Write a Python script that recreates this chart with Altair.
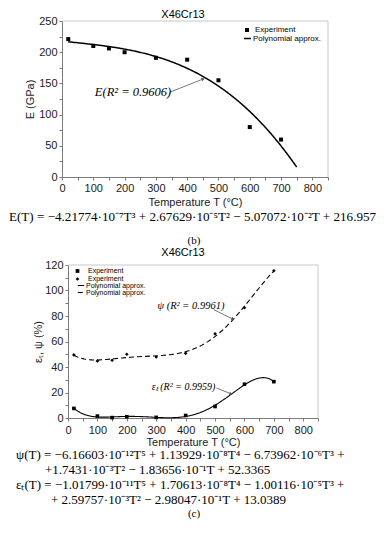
import altair as alt
import pandas as pd

# ---------------- data ----------------
# panel (b): Young's modulus E (GPa) vs temperature T (°C)
T_E = [20, 100, 150, 200, 300, 400, 500, 600, 700]
E_exp = [221, 210, 206, 200, 191, 188, 155, 80, 60]

# panel (c): elongation eps_t (%) and reduction of area psi (%)
T_c = [20, 100, 150, 200, 300, 400, 500, 600, 700]
eps_exp = [7.5, 1.5, 0.3, 1.0, 0.5, 2.0, 9.0, 26.5, 28.5]
psi_exp = [49.5, 44.8, 45.3, 50.0, 47.8, 50.7, 66.0, 86.5, 115.5]

x_ticks = list(range(0, 851, 50))
E_ticks = list(range(0, 251, 25))
c_ticks = list(range(0, 121, 10))

title_text = "X46Cr13"
eq_b = "E(T) = −4.21774·10⁻⁷T³ + 2.67629·10⁻⁵T² − 5.07072·10⁻²T + 216.957"
eq_c = [
    "ψ(T) = −6.16603·10⁻¹²T⁵ + 1.13929·10⁻⁸T⁴ − 6.73962·10⁻⁶T³ +",
    "+1.7431·10⁻³T² − 1.83656·10⁻¹T + 52.3365",
    "εₜ(T) = −1.01799·10⁻¹¹T⁵ + 1.70613·10⁻⁸T⁴ − 1.00116·10⁻⁵T³ +",
    "+ 2.59757·10⁻³T² − 2.98047·10⁻¹T + 13.0389",
]

SANS = "Liberation Sans"
SERIF = "Liberation Serif"
FRAME = "#c8c8c8"

one = pd.DataFrame({"a": [0]})


def txt(s, x, y, size, align="left", style="normal", font=SERIF):
    return alt.Chart(pd.DataFrame({"t": [s]})).mark_text(
        align=align, baseline="middle", font=font, fontSize=size,
        fontStyle=style, color="black"
    ).encode(text="t:N", x=alt.value(x), y=alt.value(y))


def ax(vals, step, **kw):
    return alt.Axis(values=vals, labelExpr=f"datum.value % {step} == 0 ? datum.label : ''",
                    labelOverlap=False, labelFlush=False, **kw)


# ---------------- panel (b) ----------------
top_df = pd.DataFrame({"T": T_E, "E": E_exp, "ser": "Experiment"})
xs_t = alt.Scale(domain=[0, 850], nice=False, zero=False)
ys_t = alt.Scale(domain=[0, 250], nice=False)
ax_xt = ax(x_ticks, 100, labelPadding=2, titlePadding=3)
ax_yt = ax(E_ticks, 50, labelPadding=2, titlePadding=3)
XT = alt.X("T:Q", scale=xs_t, axis=ax_xt, title="Temperature T (°C)")
YT = alt.Y("E:Q", scale=ys_t, axis=ax_yt, title="E (GPa)")


def xt(v):
    return alt.XDatum(v, scale=xs_t, axis=ax_xt, title="Temperature T (°C)")


def yt(v):
    return alt.YDatum(v, scale=ys_t, axis=ax_yt, title="E (GPa)")


pts_t = alt.Chart(top_df).mark_point(filled=True, color="black", size=16, opacity=1).encode(
    x=XT, y=YT,
    shape=alt.Shape("ser:N", scale=alt.Scale(domain=["Experiment"], range=["square"]),
                    legend=alt.Legend(orient="none", legendX=181, legendY=5, title=None,
                                      labelFont=SANS, labelFontSize=8, labelOffset=4,
                                      symbolSize=16, symbolFillColor="black",
                                      symbolStrokeColor="black", symbolStrokeWidth=0,
                                      padding=0)),
)
fit_t = alt.Chart(top_df).transform_regression(
    "T", "E", method="poly", order=3, extent=[20, 750]
).transform_calculate(fit="'Polynomial approx.'").mark_line(color="black", strokeWidth=1.5).encode(
    x=XT, y=YT,
    strokeDash=alt.StrokeDash("fit:N", scale=alt.Scale(domain=["Polynomial approx."], range=[[1, 0]]),
                              legend=alt.Legend(orient="none", legendX=181, legendY=13, title=None,
                                                labelFont=SANS, labelFontSize=8, labelOffset=1,
                                                symbolType="stroke", symbolSize=49,
                                                symbolStrokeColor="black", symbolStrokeWidth=1.5,
                                                padding=0)),
)
frame_t1 = alt.Chart(one).mark_rule(color=FRAME, strokeWidth=1).encode(
    x=xt(0), x2=alt.datum(850), y=yt(250))
frame_t2 = alt.Chart(one).mark_rule(color=FRAME, strokeWidth=1).encode(
    x=xt(850), y=yt(0), y2=alt.datum(250))
ann_t = alt.Chart(pd.DataFrame({"t": ["E(R² = 0.9606)"]})).mark_text(
    font=SERIF, fontSize=12.5, fontStyle="italic", color="black", baseline="middle"
).encode(text="t:N", x=xt(227), y=yt(136))
arr_t = alt.Chart(one).mark_rule(color="#555555", strokeWidth=0.8).encode(
    x=xt(345), y=yt(136), x2=alt.datum(451), y2=alt.datum(157))
head_t = alt.Chart(one).mark_point(shape="triangle-right", filled=True, color="#555555",
                                   size=14, opacity=1, angle=339).encode(
    x=xt(451), y=yt(157))

top = alt.layer(
    frame_t1, frame_t2, fit_t, pts_t, arr_t, head_t, ann_t,
    txt(title_text, 121, -6, 11, align="center", font=SANS),
    txt(eq_b, -53, 196, 13.1),
    txt("(b)", 132, 220, 11, align="center"),
).properties(width=266, height=156)

# ---------------- panel (c) ----------------
c_df = pd.DataFrame({
    "T": T_c + T_c,
    "v": eps_exp + psi_exp,
    "ser": ["eps"] * len(T_c) + ["psi"] * len(T_c),
})
xs_c = alt.Scale(domain=[0, 850], range=[6, 256], nice=False, zero=False)
ys_c = alt.Scale(domain=[0, 120], nice=False)
ax_xc = ax(x_ticks, 100, labelPadding=3, titlePadding=1)
ax_yc = ax(c_ticks, 20, labelPadding=2, titlePadding=1, offset=-6)
XC = alt.X("T:Q", scale=xs_c, axis=ax_xc, title="Temperature T (°C)")
YC = alt.Y("v:Q", scale=ys_c, axis=ax_yc, title="εₜ, ψ (%)")


def xc(v):
    return alt.XDatum(v, scale=xs_c, axis=ax_xc, title="Temperature T (°C)")


def yc(v):
    return alt.YDatum(v, scale=ys_c, axis=ax_yc, title="εₜ, ψ (%)")


pts_c = alt.Chart(c_df).mark_point(filled=True, color="black", size=13, opacity=1).encode(
    x=XC, y=YC,
    shape=alt.Shape("ser:N", scale=alt.Scale(domain=["eps", "psi"], range=["square", "diamond"]),
                    legend=alt.Legend(orient="none", legendX=12, legendY=2.5, title=None,
                                      labelExpr="'Experiment'",
                                      labelFont=SANS, labelFontSize=7, labelOffset=7,
                                      symbolSize=14, symbolFillColor="black",
                                      symbolStrokeColor="black", symbolStrokeWidth=0,
                                      rowPadding=0, padding=0)),
)
fit_c = alt.Chart(c_df).transform_regression(
    "T", "v", method="poly", order=5, groupby=["ser"]
).transform_calculate(fit="datum.ser + '_fit'").mark_line(color="black", strokeWidth=1.1).encode(
    x=XC, y=YC,
    strokeDash=alt.StrokeDash("fit:N", scale=alt.Scale(domain=["eps_fit", "psi_fit"],
                                                        range=[[1, 0], [5, 3]]),
                              legend=alt.Legend(orient="none", legendX=15, legendY=16.5, title=None,
                                                labelExpr="'Polynomial approx.'",
                                                labelFont=SANS, labelFontSize=7, labelOffset=1,
                                                symbolType="stroke", symbolSize=42,
                                                symbolStrokeColor="black", symbolStrokeWidth=1.1,
                                                rowPadding=0, padding=0)),
)
frame_c1 = alt.Chart(one).mark_rule(color=FRAME, strokeWidth=1).encode(
    x=xc(0), x2=alt.datum(850), y=yc(120))
frame_c2 = alt.Chart(one).mark_rule(color=FRAME, strokeWidth=1).encode(
    x=xc(850), y=yc(0), y2=alt.datum(120))

ann_psi = alt.Chart(pd.DataFrame({"t": ["ψ (R² = 0.9961)"]})).mark_text(
    font=SERIF, fontSize=10.5, fontStyle="italic", color="black", baseline="middle"
).encode(text="t:N", x=xc(418), y=yc(88))
arr_psi = alt.Chart(one).mark_rule(color="#555555", strokeWidth=0.8).encode(
    x=xc(495), y=yc(85), x2=alt.datum(561), y2=alt.datum(77.6))
head_psi = alt.Chart(one).mark_point(shape="triangle-right", filled=True, color="#555555",
                                     size=12, opacity=1, angle=25).encode(
    x=xc(561), y=yc(77.6))

ann_eps = alt.Chart(pd.DataFrame({"t": ["εₜ (R² = 0.9959)"]})).mark_text(
    font=SERIF, fontSize=10, fontStyle="italic", color="black", baseline="middle"
).encode(text="t:N", x=xc(393), y=yc(24.3))
arr_eps = alt.Chart(one).mark_rule(color="#555555", strokeWidth=0.8).encode(
    x=xc(505), y=yc(23.5), x2=alt.datum(554), y2=alt.datum(19))
head_eps = alt.Chart(one).mark_point(shape="triangle-right", filled=True, color="#555555",
                                     size=12, opacity=1, angle=18).encode(
    x=xc(554), y=yc(19))

bottom = alt.layer(
    frame_c1, frame_c2, fit_c, pts_c,
    arr_psi, head_psi, ann_psi, arr_eps, head_eps, ann_eps,
    txt(title_text, 121, -12, 11, align="center", font=SANS),
    txt(eq_c[0], -46, 190, 13),
    txt(eq_c[1], -17, 205, 13),
    txt(eq_c[2], -46, 220, 13),
    txt(eq_c[3], -11, 235, 13),
    txt("(c)", 132, 249, 11, align="center"),
).properties(width=256, height=153)

chart = alt.vconcat(top, bottom, spacing=88, bounds="flush").resolve_scale(
    x="independent", y="independent", shape="independent", strokeDash="independent"
).resolve_legend(
    shape="independent", strokeDash="independent"
).properties(
    padding={"left": 0, "top": 0, "right": 0, "bottom": 0}
).configure_view(stroke="transparent").configure_axis(
    domainColor="#7a7a7a", tickColor="#7a7a7a", labelColor="#1a1a1a", titleColor="#1a1a1a",
    labelFont=SANS, titleFont=SANS, labelFontSize=11, titleFontSize=11,
    titleFontWeight="normal", tickSize=3, grid=False,
)

chart.save("out.html", embed_options={"renderer": "svg", "actions": False})
